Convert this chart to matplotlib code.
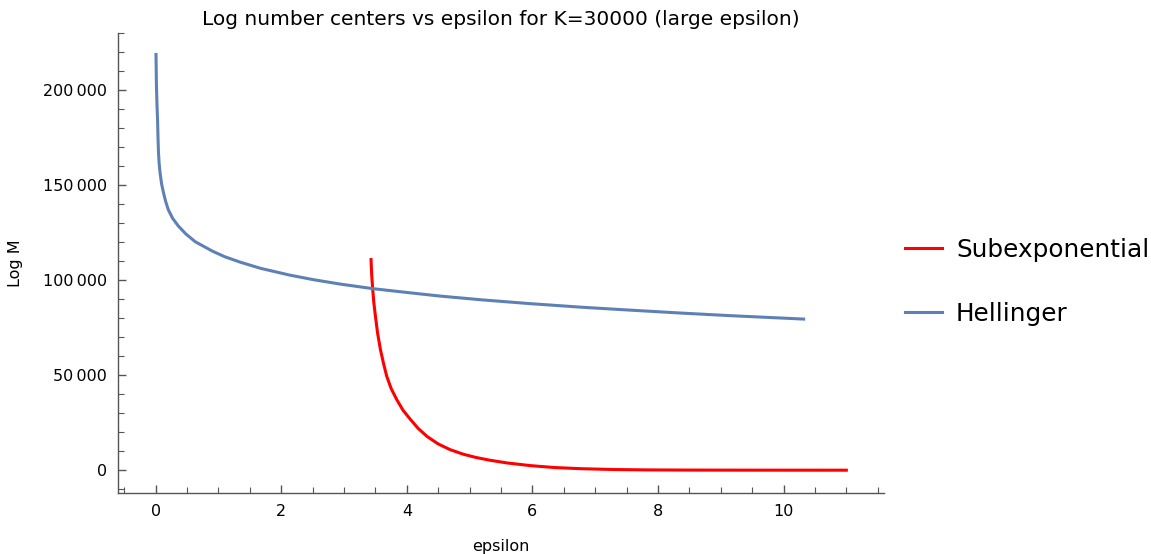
import matplotlib
matplotlib.use("Agg")
import matplotlib.pyplot as plt
from matplotlib.ticker import MultipleLocator, FuncFormatter

# Data
hell_eps = [0.005, 0.012, 0.02, 0.03, 0.038, 0.045, 0.055, 0.07, 0.095, 0.125, 0.16,
            0.20, 0.27, 0.36, 0.48, 0.63, 0.90, 1.1, 1.35, 1.67, 2.14, 2.5, 2.94,
            3.46, 4.0, 4.53, 5.2, 5.97, 6.8, 7.56, 8.4, 9.15, 9.8, 10.32]
hell_logm = [218700, 203000, 193000, 184500, 174000, 167000, 161500, 156400, 150500,
             145900, 141300, 137100, 132500, 128500, 124300, 120200, 115300, 112300,
             109400, 106200, 102600, 100300, 97900, 95500, 93500, 91600, 89600,
             87600, 85700, 84200, 82600, 81300, 80300, 79500]

sub_eps = [3.43, 3.44, 3.455, 3.475, 3.50, 3.535, 3.58, 3.63, 3.68, 3.75, 3.84, 3.94,
           4.06, 4.18, 4.32, 4.50, 4.69, 4.90, 5.10, 5.33, 5.60, 5.97, 6.35, 6.76,
           7.3, 7.83, 8.5, 9.2, 10.0, 11.0]
sub_logm = [110800, 103000, 95900, 88000, 81000, 72000, 63400, 56000, 49400, 43000,
            37100, 31500, 26600, 22000, 17800, 13800, 10800, 8400, 6700, 5200, 3800,
            2400, 1400, 800, 350, 150, 60, 25, 10, 0]

title = "Log number centers vs epsilon for K=30000 (large epsilon)"
xlabel = "epsilon"
ylabel = "Log M"
series_names = ["Subexponential", "Hellinger"]

fig = plt.figure(figsize=(11.51, 5.54), dpi=100)
ax = fig.add_axes([118/1151, 61/554, 766/1151, 460/554])

l1, = ax.plot(sub_eps, sub_logm, color="#FF0000", lw=2.2, label=series_names[0],
              solid_joinstyle="round")
l2, = ax.plot(hell_eps, hell_logm, color="#5E81B5", lw=2.2, label=series_names[1],
              solid_joinstyle="round")

ax.set_xlim(-0.6, 11.6)
ax.set_ylim(-12000, 230000)

ax.xaxis.set_major_locator(MultipleLocator(2))
ax.xaxis.set_minor_locator(MultipleLocator(0.5))
ax.yaxis.set_major_locator(MultipleLocator(50000))
ax.yaxis.set_minor_locator(MultipleLocator(10000))

def fmt(v, pos):
    v = int(round(v))
    if abs(v) >= 1000:
        return f"{v:,}".replace(",", "\u2009")
    return str(v)
ax.yaxis.set_major_formatter(FuncFormatter(fmt))

for side in ["top", "right"]:
    ax.spines[side].set_visible(False)
for side in ["left", "bottom"]:
    ax.spines[side].set_color("#555555")
    ax.spines[side].set_linewidth(1.0)

ax.tick_params(which="major", direction="in", length=6, width=1.0, color="#555555",
               labelsize=11.5, labelcolor="black")
ax.tick_params(which="minor", direction="in", length=4, width=0.8, color="#555555")
ax.tick_params(axis="x", which="major", pad=8)
ax.tick_params(axis="y", which="major", pad=8)

ax.set_title(title, fontsize=14.5, pad=6)
ax.set_xlabel(xlabel, fontsize=11.5, labelpad=14)
ax.set_ylabel(ylabel, fontsize=11.5, labelpad=14)

fig.legend(handles=[l1, l2], loc="center left", bbox_to_anchor=(0.7865, 0.491),
           frameon=False, fontsize=17.8, handlelength=1.5, handletextpad=0.55,
           labelspacing=1.61, borderpad=0, borderaxespad=0)

fig.savefig("out.png", dpi=100)
